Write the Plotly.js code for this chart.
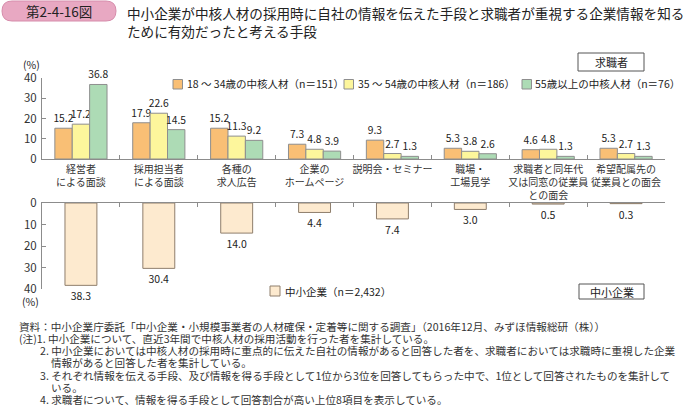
<!DOCTYPE html>
<html><head><meta charset="utf-8">
<script src="https://cdn.plot.ly/plotly-3.0.1.min.js"></script>
<style>html,body{margin:0;padding:0;background:#fff;}</style>
</head><body><div id="chart" style="width:685px;height:408px;"></div>
<script>
// ---- data ----
const categories = [
  "経営者<br>による面談",
  "採用担当者<br>による面談",
  "各種の<br>求人広告",
  "企業の<br>ホームページ",
  "説明会・セミナー",
  "職場・<br>工場見学",
  "求職者と同年代<br>又は同窓の従業員<br>との面会",
  "希望配属先の<br>従業員との面会"
];
const seriesNames = [
  "18 ～ 34歳の中核人材（n＝151）",
  "35 ～ 54歳の中核人材（n＝186）",
  "55歳以上の中核人材（n＝76）"
];
const seekers18to34 = [15.2, 17.9, 15.2, 7.3, 9.3, 5.3, 4.6, 5.3];
const seekers35to54 = [17.2, 22.6, 11.3, 4.8, 2.7, 3.8, 4.8, 2.7];
const seekers55plus = [36.8, 14.5, 9.2, 3.9, 1.3, 2.6, 1.3, 1.3];
const smeName = "中小企業（n＝2,432）";
const smeValues = [38.3, 30.4, 14.0, 4.4, 7.4, 3.0, 0.5, 0.3];
const yTicks = [0, 10, 20, 30, 40];

const titleText = "中小企業が中核人材の採用時に自社の情報を伝えた手段と求職者が重視する企業情報を知る<br>ために有効だったと考える手段";
const figLabel = "第2-4-16図";
const notes = [
  "資料：中小企業庁委託「中小企業・小規模事業者の人材確保・定着等に関する調査」（2016年12月、みずほ情報総研（株））",
  "(注)1. 中小企業について、直近3年間で中核人材の採用活動を行った者を集計している。",
  "2. 中小企業においては中核人材の採用時に重点的に伝えた自社の情報があると回答した者を、求職者においては求職時に重視した企業",
  "情報があると回答した者を集計している。",
  "3. それぞれ情報を伝える手段、及び情報を得る手段として1位から3位を回答してもらった中で、1位として回答されたものを集計して",
  "いる。",
  "4. 求職者について、情報を得る手段として回答割合が高い上位8項目を表示している。"
];

// ---- layout helpers ----
const W = 685, H = 408;
const px = x => x / W;
const py = y => 1 - y / H;
const FONT = '"Noto Sans CJK JP", "Noto Sans", sans-serif';
const colors = ["#F9BF75", "#FDF69C", "#ADDBB5"];
const smeColor = "#FDEACF";
const noteX = [17, 17, 38, 49, 38, 49, 38];
const legendSq = [173, 344, 522];   // left edges of legend swatches (px)
const legendTx = [185, 356, 533];   // text starts (px)

const topSeries = [seekers18to34, seekers35to54, seekers55plus];
const traces = topSeries.map((vals, i) => ({
  type: "bar", x: categories, y: vals, name: seriesNames[i],
  xaxis: "x", yaxis: "y", showlegend: false,
  marker: {color: colors[i], line: {color: "#8e8e8e", width: 1}},
  texttemplate: "%{y:.1f}", textposition: "outside", constraintext: "none",
  textfont: {size: 10.3, color: "#222", family: FONT}, cliponaxis: false,
  hoverinfo: "skip"
}));
traces.push({
  type: "bar", x: categories, y: smeValues, name: smeName,
  xaxis: "x2", yaxis: "y2", showlegend: false,
  width: categories.map(() => 0.41),
  marker: {color: smeColor, line: {color: "#8f7e6c", width: 1}},
  texttemplate: "%{y:.1f}", textposition: "outside", constraintext: "none",
  textfont: {size: 10.5, color: "#222", family: FONT}, cliponaxis: false,
  hoverinfo: "skip"
});

function pill(x0, y0, x1, y1, r) {
  const X = px, Y = py;
  return `M ${X(x0 + r)},${Y(y0)} L ${X(x1 - r)},${Y(y0)} Q ${X(x1)},${Y(y0)} ${X(x1)},${Y(y0 + r)} ` +
    `L ${X(x1)},${Y(y1 - r)} Q ${X(x1)},${Y(y1)} ${X(x1 - r)},${Y(y1)} L ${X(x0 + r)},${Y(y1)} ` +
    `Q ${X(x0)},${Y(y1)} ${X(x0)},${Y(y1 - r)} L ${X(x0)},${Y(y0 + r)} Q ${X(x0)},${Y(y0)} ${X(x0 + r)},${Y(y0)} Z`;
}

const axisCommon = {
  showline: true, linecolor: "#8c8c8c", linewidth: 1,
  ticks: "inside", ticklen: 4, tickcolor: "#8c8c8c", tickwidth: 1,
  showgrid: false, zeroline: false, fixedrange: true
};

function txt(text, x, y, size, xanchor, extra) {
  return Object.assign({text: text, x: px(x), y: py(y), xref: "paper", yref: "paper",
    xanchor: xanchor || "center", yanchor: "middle", showarrow: false,
    font: {size: size, color: "#222", family: FONT}}, extra || {});
}

const annotations = [
  txt(figLabel, 59, 11, 13.5),
  Object.assign(txt(titleText, 125, 1, 13.6, "left"), {yanchor: "top", align: "left"}),
  txt("(%)", 31, 64, 10.5),
  txt("(%)", 30, 301, 10.5),
  txt("求職者", 611, 62, 11),
  txt("中小企業", 611.5, 291.5, 11),
  txt(smeName, 283, 291, 10.5, "left")
];
seriesNames.forEach((n, i) => annotations.push(txt(n, legendTx[i], 84, 10.5, "left")));
notes.forEach((t, i) => annotations.push(txt(t, noteX[i], 326 + 12.3 * i, 10.6, "left",
  {font: {size: 10.6, color: "#333", family: FONT}})));

const shapes = [
  {type: "path", xref: "paper", yref: "paper", path: pill(2, 1, 116, 21, 10),
   fillcolor: "#E8A8C2", line: {color: "#D68CAB", width: 1}},
  {type: "rect", xref: "paper", yref: "paper", x0: px(578), x1: px(644), y0: py(53), y1: py(71),
   fillcolor: "#fff", line: {color: "#555", width: 1}},
  {type: "rect", xref: "paper", yref: "paper", x0: px(579), x1: px(644), y0: py(284), y1: py(299),
   fillcolor: "#fff", line: {color: "#555", width: 1}},
  {type: "rect", xref: "paper", yref: "paper", x0: px(270), x1: px(280), y0: py(286), y1: py(296),
   fillcolor: smeColor, line: {color: "#8f7e6c", width: 1}}
];
legendSq.forEach((x, i) => shapes.push({type: "rect", xref: "paper", yref: "paper",
  x0: px(x), x1: px(x + 9.5), y0: py(79.5), y1: py(89),
  fillcolor: colors[i], line: {color: "#8e8e8e", width: 1}}));

const layout = {
  width: W, height: H, margin: {l: 0, r: 0, t: 0, b: 0},
  paper_bgcolor: "#fff", plot_bgcolor: "rgba(0,0,0,0)",
  font: {family: FONT, color: "#333"},
  barmode: "group", bargap: 0.33, bargroupgap: 0,
  showlegend: false,
  xaxis: Object.assign({}, axisCommon, {
    domain: [px(42), px(665)], anchor: "y", type: "category", tickson: "boundaries",
    tickangle: 0, tickfont: {size: 10, color: "#333"}, ticklabelstandoff: 1
  }),
  yaxis: Object.assign({}, axisCommon, {
    domain: [py(159), py(78)], anchor: "x", range: [0, 40], tickvals: yTicks,
    tickfont: {size: 11.5, color: "#333"}, ticklabelstandoff: 2
  }),
  xaxis2: Object.assign({}, axisCommon, {
    domain: [px(42), px(665)], anchor: "y2", type: "category", tickson: "boundaries",
    side: "top", showticklabels: false
  }),
  yaxis2: Object.assign({}, axisCommon, {
    domain: [py(289), py(203)], anchor: "x2", range: [40, 0], tickvals: yTicks,
    tickfont: {size: 11.5, color: "#333"}, ticklabelstandoff: 2
  }),
  shapes: shapes,
  annotations: annotations
};

Plotly.newPlot("chart", traces, layout, {staticPlot: true, displayModeBar: false});
</script>
</body></html>
